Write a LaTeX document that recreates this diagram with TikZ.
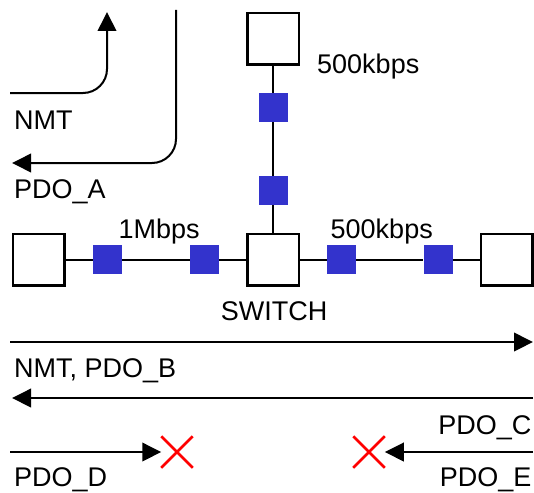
\documentclass[tikz,border=0pt]{standalone}
\usepackage{fontspec}
\setmainfont{Liberation Sans}
\usetikzlibrary{arrows.meta,shapes.misc}
\definecolor{portblue}{RGB}{51,51,204}
\definecolor{xred}{RGB}{255,0,0}
\tikzset{
  dev/.style={draw, line width=2.5pt, minimum size=51.5pt, inner sep=0pt, fill=white},
  port/.style={fill=portblue, minimum size=29pt, inner sep=0pt},
  wire/.style={line width=2pt},
  flow/.style={line width=2pt, -{Triangle[length=19pt,width=18.5pt]}},
  lbl/.style={font=\fontsize{27}{31}\selectfont, inner sep=0pt},
  xmark/.style={draw=xred, cross out, line width=2.5pt, minimum size=29pt, inner sep=0pt}
}
\begin{document}
\begin{tikzpicture}[x=1pt,y=-1pt]
\useasboundingbox (0,0) rectangle (534,492);
% devices
\node[dev] (top) at (273,39) {};
\node[dev] (left) at (38.5,259.5) {};
\node[dev] (sw) at (273,259.5) {};
\node[dev] (right) at (506.5,259.5) {};
% ports
\node[port] (p1) at (107.5,259.5) {};
\node[port] (p2) at (204.5,259.5) {};
\node[port] (p3) at (341.5,259.5) {};
\node[port] (p4) at (438,259.5) {};
\node[port] (v1) at (273,107.5) {};
\node[port] (v2) at (273,190.5) {};
% wires
\draw[wire] (left) -- (p1) -- (p2) -- (sw) -- (p3) -- (p4) -- (right);
\draw[wire] (top) -- (v1) -- (v2) -- (sw);
% labels
\node[lbl, anchor=base west] (l500t) at (317,74) {500kbps};
\node[lbl, anchor=base west] (l1m) at (118.5,238.5) {1Mbps};
\node[lbl, anchor=base west] (l500r) at (330.5,238.5) {500kbps};
\node[lbl, anchor=base] (lsw) at (274,320.5) {SWITCH};
% NMT and PDO_A (top left)
\coordinate (nmtS) at (10,93);
\coordinate (nmtE) at (107,12);
\draw[flow, rounded corners=24pt] (nmtS) -| (nmtE);
\node[lbl, anchor=base west] (lnmt) at (14,129.3) {NMT};
\coordinate (pdoaS) at (176,10);
\coordinate (pdoaE) at (12,163);
\draw[flow, rounded corners=24pt] (pdoaS) |- (pdoaE);
\node[lbl, anchor=base west] (lpdoa) at (14,198) {PDO\_A};
% long arrows
\coordinate (b1S) at (10,342);
\coordinate (b1E) at (533,342);
\draw[flow] (b1S) -- (b1E);
\node[lbl, anchor=base west] (lnmtb) at (14,377.5) {NMT, PDO\_B};
\coordinate (b2S) at (533,398);
\coordinate (b2E) at (12,398);
\draw[flow] (b2S) -- (b2E);
\node[lbl, anchor=base east] (lpdoc) at (531.5,434) {PDO\_C};
% blocked arrows
\node[xmark] (xd) at (177,452) {};
\node[xmark] (xe) at (369,452) {};
\coordinate (dS) at (10,452);
\draw[flow] (dS) -- (xd.west);
\coordinate (eS) at (533,452);
\draw[flow] (eS) -- (xe.east);
\node[lbl, anchor=base west] (lpdod) at (14,486.5) {PDO\_D};
\node[lbl, anchor=base east] (lpdoe) at (531.5,486.5) {PDO\_E};
\end{tikzpicture}
\end{document}
